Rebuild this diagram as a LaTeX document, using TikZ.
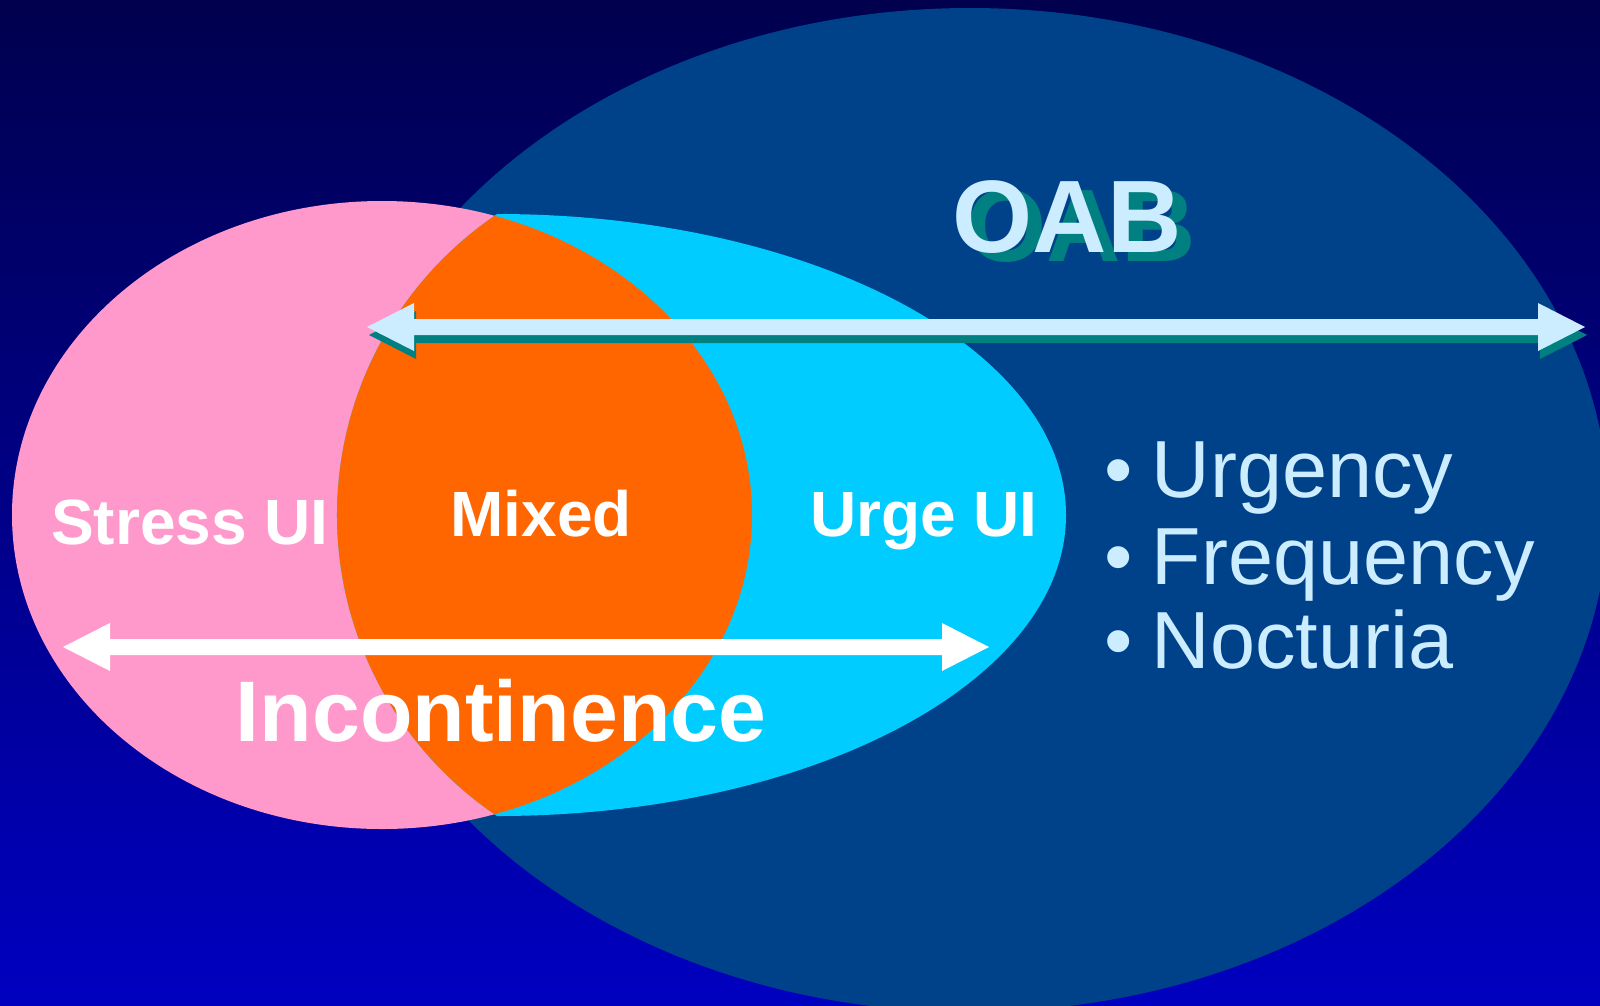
\documentclass[tikz,border=0pt]{standalone}
\usepackage{fontspec}
\setmainfont{Liberation Sans}
\usetikzlibrary{calc}
\definecolor{bgtop}{RGB}{0,0,78}
\definecolor{bgbot}{RGB}{0,0,192}
\definecolor{oabblue}{RGB}{0,66,138}
\definecolor{pinkc}{RGB}{255,153,204}
\definecolor{cyanc}{RGB}{0,204,255}
\definecolor{orangec}{RGB}{255,102,0}
\definecolor{lightb}{RGB}{204,236,255}
\definecolor{tealc}{RGB}{0,128,128}
\newcommand\DArrowShape[3]{%
  \fill[#3] (#1) -- ($(#1)+(47,-24)$) -- ($(#1)+(47,-8)$) -- ($(#2)+(-47,-8)$)
    -- ($(#2)+(-47,-24)$) -- (#2) -- ($(#2)+(-47,24)$) -- ($(#2)+(-47,8)$)
    -- ($(#1)+(47,8)$) -- ($(#1)+(47,24)$) -- cycle;}
\begin{document}
\begin{tikzpicture}[x=1pt,y=-1pt,
  lbl/.style={inner sep=0pt, outer sep=0pt, anchor=base, text=white, font=\bfseries\fontsize{64}{64}\selectfont},
  bigl/.style={inner sep=0pt, outer sep=0pt, anchor=base, font=\bfseries\fontsize{103}{103}\selectfont},
  bullet/.style={inner sep=0pt, outer sep=0pt, anchor=base west, text=lightb, font=\fontsize{81}{81}\selectfont}]
\useasboundingbox (0,0) rectangle (1600,1005);
\shade[top color=bgtop, bottom color=bgbot] (0,0) rectangle (1600,1005);
% OAB ellipse
\fill[oabblue] (970,510) ellipse [x radius=638, y radius=502];
% incontinence shapes
\def\cyanpath{(497,214) arc[start angle=-90, end angle=90, x radius=569, y radius=301]
  arc[start angle=124, end angle=236, radius=363] -- cycle}
\fill[pinkc] (382,515) ellipse [x radius=370, y radius=314];
\fill[cyanc] \cyanpath;
\begin{scope}
  \clip (382,515) ellipse [x radius=370, y radius=314];
  \fill[orangec] \cyanpath;
\end{scope}
% arrows
\coordinate (incL) at (63,647);
\coordinate (incR) at (989,647);
\coordinate (oabL) at (367,327);
\coordinate (oabR) at (1585,327);
\coordinate (oabLs) at (369,335);
\coordinate (oabRs) at (1587,335);
\DArrowShape{incL}{incR}{white}
\DArrowShape{oabLs}{oabRs}{tealc}
\DArrowShape{oabL}{oabR}{lightb}
% labels
\node[lbl] (stress) at (190,544) {Stress UI};
\node[lbl] (mixed) at (541,536) {Mixed};
\node[lbl] (urge) at (924,536) {Urge UI};
\node[lbl, font=\bfseries\fontsize{86}{86}\selectfont] (incont) at (501,741) {Incontinence};
\node[bigl, text=tealc] (oabshadow) at (1081,261) {OAB};
\node[bigl, text=lightb] (oab) at (1067,252) {OAB};
\node[bullet] (urgency) at (1104,497) {•\hspace{19.6pt}Urgency};
\node[bullet] (frequency) at (1104,584) {•\hspace{19.6pt}Frequency};
\node[bullet] (nocturia) at (1104,668) {•\hspace{19.6pt}Nocturia};
\end{tikzpicture}
\end{document}
